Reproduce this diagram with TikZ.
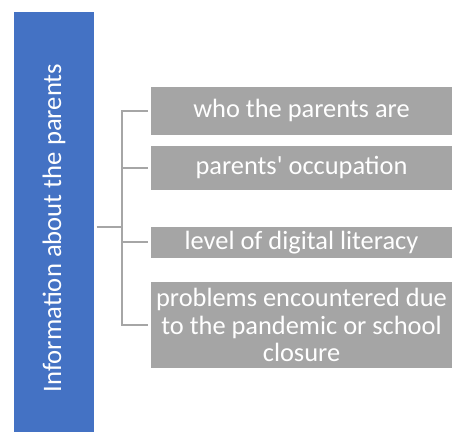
\documentclass[tikz,border=0pt]{standalone}
\usepackage{fontspec}
\setmainfont{Carlito}
\definecolor{mainblue}{HTML}{4472C4}
\definecolor{boxgray}{HTML}{A5A5A5}
\definecolor{linegray}{HTML}{A6A6A6}
\tikzset{
  mainbox/.style={fill=mainblue, draw=none, inner sep=0pt,
    minimum width=60pt, minimum height=315pt},
  maintext/.style={text=white, inner sep=0pt, rotate=90, font=\fontsize{20}{24}\selectfont},
  itembox/.style={fill=boxgray, draw=none, inner sep=0pt, text=white, align=center,
    minimum width=225.75pt, font=\fontsize{19.8}{20.6}\selectfont},
  conn/.style={draw=linegray, line width=1.5pt}
}
\begin{document}
\begin{tikzpicture}[x=0.75pt, y=-0.75pt]
\useasboundingbox (0,0) rectangle (453,434);
\node[mainbox] (main) at (54,222) {};
\node[maintext] (maintitle) at ([yshift=-4.5pt]main.center) {Information about the parents};
\node[itembox, minimum height=36.2pt] (b1) at (301.5,110.8) {who the parents are};
\node[itembox, minimum height=33.2pt] (b2) at (301.5,167.8) {parents\textquotesingle{} occupation};
\node[itembox, minimum height=23.25pt] (b3) at (301.5,242.2) {level of digital literacy};
\node[itembox, minimum height=65pt] (b4) at (301.5,325) {problems encountered due\\to the pandemic or school\\closure};
\coordinate (stem) at (96.7,227);
\coordinate (j) at (122,227);
\draw[conn] (stem) -- (j);
\draw[conn] ([xshift=-2.25pt]b1.west) -| (j |- b4.west) -- ([xshift=-2.25pt]b4.west);
\draw[conn] (j |- b2.west) -- ([xshift=-2.25pt]b2.west);
\draw[conn] (j |- b3.west) -- ([xshift=-2.25pt]b3.west);
\end{tikzpicture}
\end{document}
